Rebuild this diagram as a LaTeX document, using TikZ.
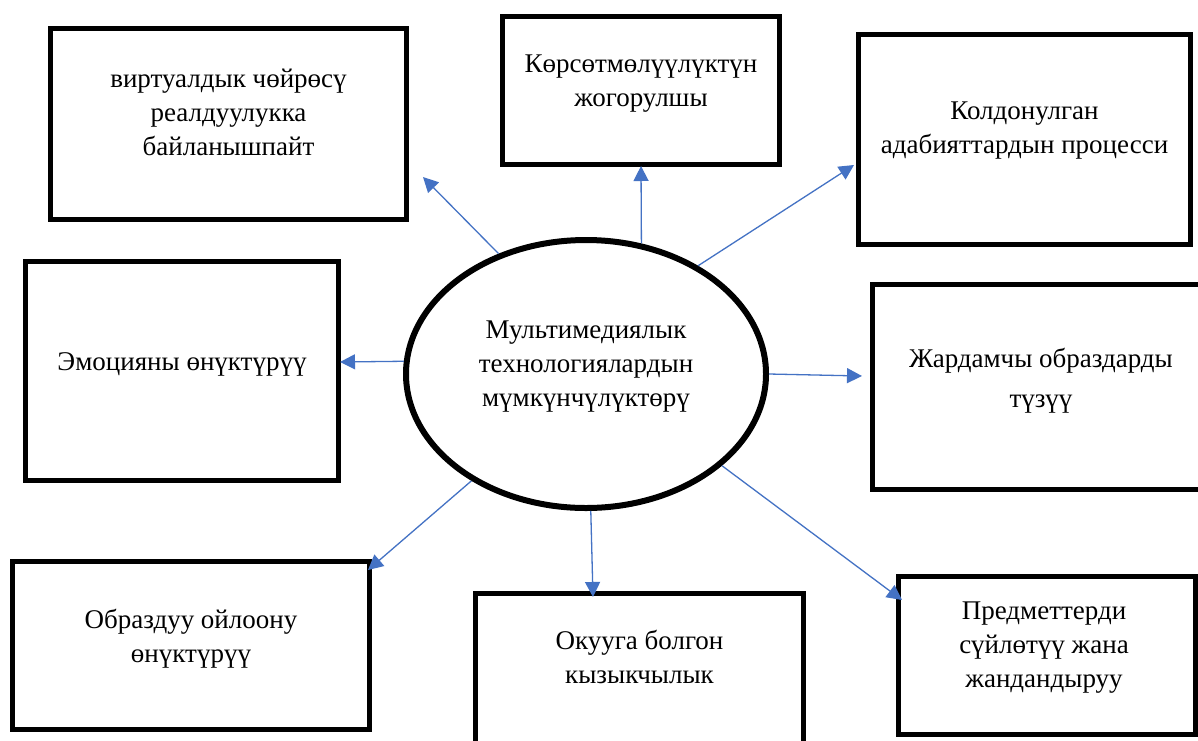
\documentclass[tikz,border=0pt]{standalone}
\usepackage{fontspec}
\setmainfont{Liberation Serif}
\usetikzlibrary{shapes.geometric,arrows.meta}
\definecolor{arrowblue}{HTML}{4472C4}
\begin{document}
\begin{tikzpicture}[x=1pt,y=-1pt,
  box/.style={draw=black, line width=5pt, rectangle, inner sep=0pt},
  lbl/.style={font=\fontsize{27}{34}\selectfont, align=center, anchor=base, inner sep=0pt},
  arr/.style={draw=arrowblue, line width=1.3pt, -{Triangle[length=15pt,width=15pt]}}]
\useasboundingbox (0,0) rectangle (1198,740);
\fill[white] (0,0) rectangle (1198,740);

% boxes
\node[box, minimum width=356pt, minimum height=191pt] (b1) at (228.5,124) {};
\node[box, minimum width=277pt, minimum height=148pt] (b2) at (641,90.5) {};
\node[box, minimum width=332pt, minimum height=210pt] (b3) at (1024.5,139.5) {};
\node[box, minimum width=313pt, minimum height=219pt] (b4) at (182,371) {};
\node[box, minimum width=337pt, minimum height=205pt] (b5) at (1041,387) {};
\node[box, minimum width=357pt, minimum height=168pt] (b6) at (191,645.5) {};
\node[box, minimum width=328pt, minimum height=174pt] (b7) at (639.5,680.5) {};
\node[box, minimum width=297pt, minimum height=158pt] (b8) at (1047,655.5) {};

% central ellipse
\node[draw=black, ellipse, line width=6pt, minimum width=360pt, minimum height=268pt, inner sep=0pt] (e) at (586,374) {};

% texts (anchored at the baseline of the last line)
\node[lbl] (t1) at (228.5,155) {виртуалдык чөйрөсү\\реалдуулукка\\байланышпайт};
\node[lbl] (t2) at (641,106) {Көрсөтмөлүүлүктүн\\жогорулшы};
\node[lbl] (t3) at (1024.5,153) {Колдонулган\\адабияттардын процесси};
\node[lbl] (t4) at (182,370) {Эмоцияны өнүктүрүү};
\node[lbl] (t5) at (1041,407) {Жардамчы образдарды\\[6pt]түзүү};
\node[lbl] (t6) at (191,662) {Образдуу ойлоону\\өнүктүрүү};
\node[lbl] (t7) at (639.5,683) {Окууга болгон\\кызыкчылык};
\node[lbl] (t8) at (1044,687) {Предметтерди\\сүйлөтүү жана\\жандандыруу};
\node[lbl] (tc) at (586,406) {Мультимедиялык\\технологиялардын\\мүмкүнчүлүктөрү};

% arrow tips
\coordinate (p1) at (423,177);
\coordinate (p2) at (641,166);
\coordinate (p3) at (854,165);
\coordinate (p4) at (340,362);
\coordinate (p5) at (862,376);
\coordinate (p6) at (368,570);
\coordinate (p7) at (593,597);
\coordinate (p8) at (902,600);

% connectors
\draw[arr] (e.126) -- (p1);
\draw[arr] (e.67) -- (p2);
\draw[arr] (e.44.5) -- (p3);
\draw[arr] (e.176.2) -- (p4);
\draw[arr] (e.-0.6) -- (p5);
\draw[arr] (e.223.2) -- (p6);
\draw[arr] (e.272.5) -- (p7);
\draw[arr] (e.326.4) -- (p8);
\end{tikzpicture}
\end{document}
